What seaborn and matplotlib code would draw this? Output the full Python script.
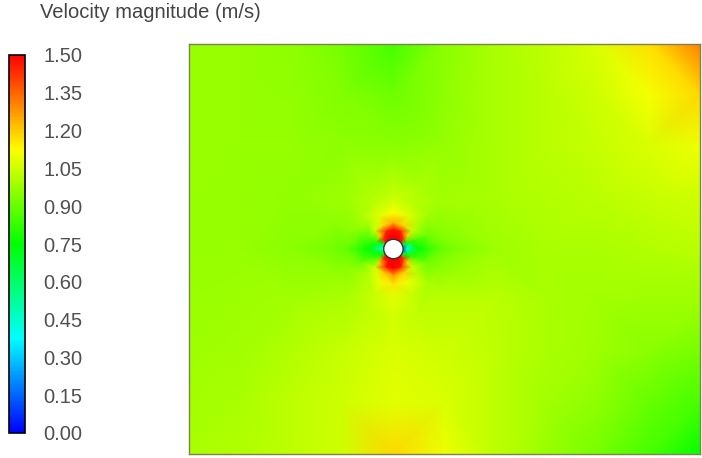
import numpy as np
import matplotlib
matplotlib.use("Agg")
import matplotlib.pyplot as plt
import matplotlib.tri as mtri
from matplotlib.patches import Circle
import seaborn as sns

sns.set_theme(style="white")
plt.rcParams["font.family"] = ["Liberation Sans", "DejaVu Sans"]

# Domain (m) and cylinder
domain_w, domain_h = 10.0, 8.0
cyl_x, cyl_y, cyl_r = 4.0, 4.0, 0.19

# Far-field samples on a 1 m grid: one list per column x = 0..10, values from y = 0 (bottom) to y = 8 (top).
# None marks nodes close to the cylinder, where the ring samples below take over.
grid_x = [0, 1, 2, 3, 4, 5, 6, 7, 8, 9, 10]
grid_y = [0, 1, 2, 3, 4, 5, 6, 7, 8]
col_0 = [1.00, 0.99, 0.98, 0.975, 0.97, 0.97, 0.975, 0.975, 0.975]
col_1 = [1.01, 1.00, 0.99, 0.98, 0.97, 0.97, 0.97, 0.97, 0.97]
col_2 = [1.03, 1.03, 1.01, 0.99, 0.955, 0.965, 0.97, 0.965, 0.96]
col_3 = [1.05, 1.05, 1.04, None, None, None, 0.96, 0.94, 0.925]
col_4 = [1.18, 1.08, 1.07, None, None, None, 0.95, 0.91, 0.85]
col_5 = [1.10, 1.07, 1.05, None, None, None, 0.97, 0.96, 0.95]
col_6 = [1.03, 1.03, 1.03, 1.02, 0.98, 1.00, 1.00, 1.00, 1.00]
col_7 = [0.975, 0.99, 1.00, 1.00, 1.00, 1.01, 1.02, 1.02, 1.03]
col_8 = [0.92, 0.96, 0.98, 0.99, 1.00, 1.02, 1.04, 1.05, 1.07]
col_9 = [0.85, 0.90, 0.95, 0.98, 1.01, 1.04, 1.07, 1.11, 1.17]
col_10 = [0.75, 0.85, 0.92, 0.98, 1.02, 1.05, 1.10, 1.18, 1.31]
columns = [col_0, col_1, col_2, col_3, col_4, col_5, col_6, col_7, col_8, col_9, col_10]

# Near-field samples on rings around the cylinder, angle measured counter-clockwise from +x.
ring_angles_deg = [0, 22.5, 45, 67.5, 90, 112.5, 135, 157.5,
                   180, 202.5, 225, 247.5, 270, 292.5, 315, 337.5]
ring_radii = [0.19, 0.27, 0.37, 0.50, 0.70, 0.95, 1.30]
ring_019 = [0.15, 0.65, 1.55, 1.80, 1.80, 1.80, 1.55, 0.68,
            0.38, 0.68, 1.55, 1.80, 1.80, 1.80, 1.55, 0.65]
ring_027 = [0.40, 0.72, 1.42, 1.68, 1.70, 1.68, 1.42, 0.74,
            0.52, 0.74, 1.42, 1.68, 1.72, 1.68, 1.42, 0.72]
ring_037 = [0.60, 0.80, 1.20, 1.45, 1.48, 1.45, 1.20, 0.80,
            0.64, 0.80, 1.20, 1.47, 1.51, 1.47, 1.20, 0.80]
ring_050 = [0.74, 0.86, 1.04, 1.18, 1.25, 1.18, 1.04, 0.86,
            0.75, 0.86, 1.05, 1.20, 1.28, 1.20, 1.05, 0.86]
ring_070 = [0.83, 0.91, 1.00, 1.08, 1.13, 1.08, 1.00, 0.91,
            0.83, 0.91, 1.01, 1.10, 1.16, 1.10, 1.01, 0.91]
ring_095 = [0.90, 0.95, 0.99, 1.02, 1.05, 1.02, 0.99, 0.95,
            0.90, 0.95, 1.00, 1.04, 1.08, 1.04, 1.00, 0.95]
ring_130 = [0.94, 0.97, 0.99, 1.00, 1.01, 1.00, 0.98, 0.96,
            0.93, 0.97, 1.00, 1.03, 1.06, 1.03, 1.02, 0.98]
rings = [ring_019, ring_027, ring_037, ring_050, ring_070, ring_095, ring_130]

# Colour scale
cbar_ticks = [0.00, 0.15, 0.30, 0.45, 0.60, 0.75, 0.90, 1.05, 1.20, 1.35, 1.50]
v_min, v_max = 0.0, 1.5

# Assemble sample points
px, py, pv = [], [], []
for xi, col in zip(grid_x, columns):
    for yi, v in zip(grid_y, col):
        if v is None:
            continue
        px.append(xi); py.append(yi); pv.append(v)
for r, ring in zip(ring_radii, rings):
    for a, v in zip(ring_angles_deg, ring):
        t = np.deg2rad(a)
        px.append(cyl_x + r * np.cos(t)); py.append(cyl_y + r * np.sin(t)); pv.append(v)
px, py, pv = np.array(px), np.array(py), np.array(pv)

tri = mtri.Triangulation(px, py)
cx = px[tri.triangles].mean(axis=1)
cy = py[tri.triangles].mean(axis=1)
tri.set_mask(np.hypot(cx - cyl_x, cy - cyl_y) < cyl_r)

cmap = sns.blend_palette(["#0000ff", "#00ffff", "#00ff00", "#ffff00", "#ff0000"], as_cmap=True)

fig = plt.figure(figsize=(7.02, 4.58), dpi=100)
fig.patch.set_facecolor("white")

ax = fig.add_axes([189 / 702, 1 - 454 / 458, 511 / 702, 410 / 458])
mesh = ax.tripcolor(tri, pv, shading="gouraud", cmap=cmap, vmin=v_min, vmax=v_max)
ax.add_patch(Circle((cyl_x, cyl_y), cyl_r, facecolor="white", edgecolor="#333333", lw=1.0, zorder=3))
ax.set_xlim(0, domain_w)
ax.set_ylim(0, domain_h)
ax.set_xticks([]); ax.set_yticks([])
for s in ax.spines.values():
    s.set_visible(True)
    s.set_color("#808050")
    s.set_linewidth(1.0)

cax = fig.add_axes([9 / 702, 1 - 433 / 458, 16 / 702, 378 / 458])
cb = fig.colorbar(mesh, cax=cax, ticks=cbar_ticks)
cb.outline.set_edgecolor("black")
cb.outline.set_linewidth(1.2)
cax.yaxis.set_ticks_position("right")
cax.tick_params(axis="y", length=0, pad=13, labelsize=14.5, labelcolor="#505050")
cax.set_yticklabels([f"{t:.2f}" for t in cbar_ticks])

fig.text(40 / 702, 1 - 13 / 458, "Velocity magnitude (m/s)", fontsize=14.5,
         color="#444444", ha="left", va="center")

fig.savefig("out.png", dpi=100, facecolor="white")
